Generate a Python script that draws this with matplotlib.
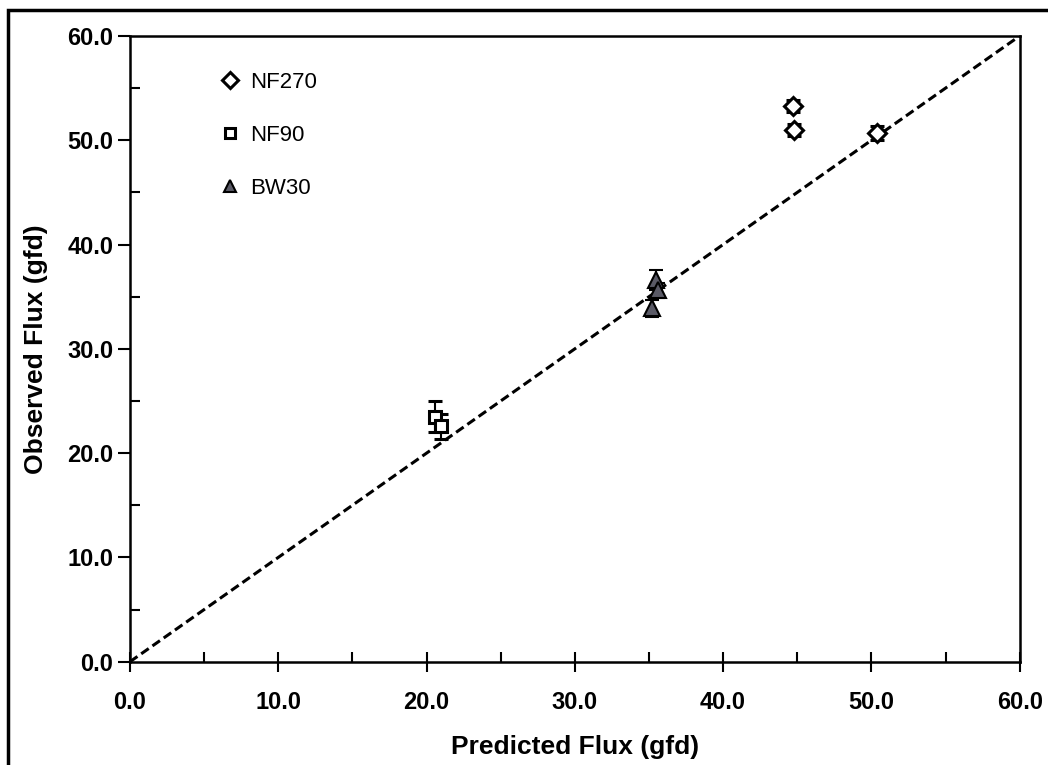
import numpy as np
import matplotlib.pyplot as plt
from matplotlib.patches import Rectangle

plt.rcParams['font.family'] = ['Liberation Sans', 'DejaVu Sans']

# NF270
nf270_x = [44.7, 44.8, 50.4]
nf270_y = [53.3, 51.0, 50.7]
nf270_err = [0.6, 0.6, 0.7]

# NF90
nf90_x = [20.6, 21.0]
nf90_y = [23.5, 22.6]
nf90_err = [1.5, 1.2]

# BW30
bw30_x = [35.5, 35.6, 35.2]
bw30_y = [36.6, 35.6, 33.9]
bw30_err = [1.0, 0.7, 0.8]

fig = plt.figure(figsize=(10.48, 7.65), dpi=100)
ax = fig.add_axes([0.124, 0.135, 0.849, 0.818])

ax.plot([0, 60], [0, 60], color='black', linestyle=(0, (3, 1.5)), linewidth=2.2, zorder=1)

ax.errorbar(nf270_x, nf270_y, yerr=nf270_err, fmt='D', ms=9, mfc='white', mec='black',
            mew=2.2, ecolor='black', elinewidth=1.5, capsize=5, capthick=1.5, label='NF270', zorder=3)
ax.errorbar(nf90_x, nf90_y, yerr=nf90_err, fmt='s', ms=9, mfc='white', mec='black',
            mew=2.2, ecolor='black', elinewidth=1.5, capsize=5, capthick=1.5, label='NF90', zorder=3)
ax.errorbar(bw30_x, bw30_y, yerr=bw30_err, fmt='^', ms=11, mfc='#5a5a66', mec='black',
            mew=1.5, ecolor='black', elinewidth=1.5, capsize=5, capthick=1.5, label='BW30', zorder=3)

ax.set_xlim(0, 60)
ax.set_ylim(0, 60)
ticks = np.arange(0, 61, 10)
ax.set_xticks(ticks)
ax.set_yticks(ticks)
ax.set_xticks(np.arange(5, 60, 10), minor=True)
ax.set_yticks(np.arange(5, 60, 10), minor=True)
ax.set_xticklabels([f'{t:.1f}' for t in ticks], fontsize=17, fontweight='bold')
ax.set_yticklabels([f'{t:.1f}' for t in ticks], fontsize=17, fontweight='bold')
ax.tick_params(axis='x', which='major', direction='inout', length=14, width=1.5, pad=14)
ax.tick_params(axis='y', which='major', direction='out', length=9, width=1.5, pad=3)
ax.tick_params(which='minor', direction='in', length=7, width=1.5)
for s in ax.spines.values():
    s.set_linewidth(1.8)

ax.set_xlabel('Predicted Flux (gfd)', fontsize=19, fontweight='bold', labelpad=15)
ax.set_ylabel('Observed Flux (gfd)', fontsize=19, fontweight='bold', labelpad=14)

handles, labels = ax.get_legend_handles_labels()
handles = [h[0] for h in handles]
leg = ax.legend(handles, labels, loc='upper left', bbox_to_anchor=(0.078, 0.975), frameon=False,
                fontsize=16, labelspacing=1.45, handletextpad=0.4, handlelength=1.0, markerscale=0.85)

fig.patches.append(Rectangle((8 / 1048, -0.05), 1.1, 1 - 10 / 765 + 0.05, transform=fig.transFigure,
                             fill=False, edgecolor='black', linewidth=2.5))

fig.savefig('out.png', dpi=100)
